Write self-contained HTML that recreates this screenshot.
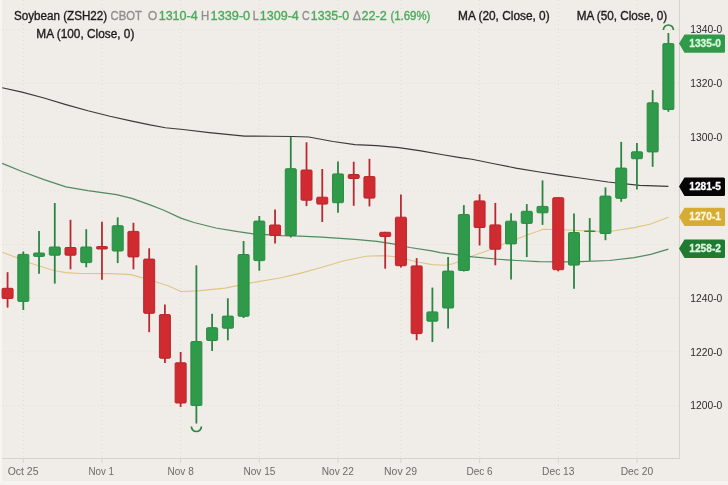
<!DOCTYPE html>
<html><head><meta charset="utf-8"><title>Soybean (ZSH22) chart</title>
<style>html,body{margin:0;padding:0;background:#f0ece7;} body{width:728px;height:485px;overflow:hidden;} svg{display:block;will-change:transform;}</style>
</head><body>
<svg width="728" height="485" viewBox="0 0 728 485">
<rect x="0" y="0" width="728" height="485" fill="#f0ece7"/>
<rect x="0" y="0" width="2" height="485" fill="#f6f5f2"/>
<rect x="0" y="481" width="728" height="4" fill="#f5f4f1"/>
<line x1="2" y1="405.6" x2="679" y2="405.6" stroke="#e0dcd6" stroke-width="1" stroke-dasharray="1 3"/>
<line x1="2" y1="351.9" x2="679" y2="351.9" stroke="#e0dcd6" stroke-width="1" stroke-dasharray="1 3"/>
<line x1="2" y1="298.2" x2="679" y2="298.2" stroke="#e0dcd6" stroke-width="1" stroke-dasharray="1 3"/>
<line x1="2" y1="244.5" x2="679" y2="244.5" stroke="#e0dcd6" stroke-width="1" stroke-dasharray="1 3"/>
<line x1="2" y1="190.8" x2="679" y2="190.8" stroke="#e0dcd6" stroke-width="1" stroke-dasharray="1 3"/>
<line x1="2" y1="137.1" x2="679" y2="137.1" stroke="#e0dcd6" stroke-width="1" stroke-dasharray="1 3"/>
<line x1="2" y1="83.4" x2="679" y2="83.4" stroke="#e0dcd6" stroke-width="1" stroke-dasharray="1 3"/>
<line x1="2" y1="29.7" x2="679" y2="29.7" stroke="#e0dcd6" stroke-width="1" stroke-dasharray="1 3"/>
<line x1="23.3" y1="0" x2="23.3" y2="458.5" stroke="#e0dcd6" stroke-width="1" stroke-dasharray="1 3"/>
<line x1="102.0" y1="0" x2="102.0" y2="458.5" stroke="#e0dcd6" stroke-width="1" stroke-dasharray="1 3"/>
<line x1="180.6" y1="0" x2="180.6" y2="458.5" stroke="#e0dcd6" stroke-width="1" stroke-dasharray="1 3"/>
<line x1="259.3" y1="0" x2="259.3" y2="458.5" stroke="#e0dcd6" stroke-width="1" stroke-dasharray="1 3"/>
<line x1="338.0" y1="0" x2="338.0" y2="458.5" stroke="#e0dcd6" stroke-width="1" stroke-dasharray="1 3"/>
<line x1="400.9" y1="0" x2="400.9" y2="458.5" stroke="#e0dcd6" stroke-width="1" stroke-dasharray="1 3"/>
<line x1="479.6" y1="0" x2="479.6" y2="458.5" stroke="#e0dcd6" stroke-width="1" stroke-dasharray="1 3"/>
<line x1="558.3" y1="0" x2="558.3" y2="458.5" stroke="#e0dcd6" stroke-width="1" stroke-dasharray="1 3"/>
<line x1="636.9" y1="0" x2="636.9" y2="458.5" stroke="#e0dcd6" stroke-width="1" stroke-dasharray="1 3"/>
<line x1="679.5" y1="0" x2="679.5" y2="458.5" stroke="#d6d3cd" stroke-width="1"/>
<line x1="2" y1="458.5" x2="680" y2="458.5" stroke="#d6d3cd" stroke-width="1"/>
<line x1="23.3" y1="458.5" x2="23.3" y2="463.0" stroke="#d6d3cd" stroke-width="1"/>
<line x1="102.0" y1="458.5" x2="102.0" y2="463.0" stroke="#d6d3cd" stroke-width="1"/>
<line x1="180.6" y1="458.5" x2="180.6" y2="463.0" stroke="#d6d3cd" stroke-width="1"/>
<line x1="259.3" y1="458.5" x2="259.3" y2="463.0" stroke="#d6d3cd" stroke-width="1"/>
<line x1="338.0" y1="458.5" x2="338.0" y2="463.0" stroke="#d6d3cd" stroke-width="1"/>
<line x1="400.9" y1="458.5" x2="400.9" y2="463.0" stroke="#d6d3cd" stroke-width="1"/>
<line x1="479.6" y1="458.5" x2="479.6" y2="463.0" stroke="#d6d3cd" stroke-width="1"/>
<line x1="558.3" y1="458.5" x2="558.3" y2="463.0" stroke="#d6d3cd" stroke-width="1"/>
<line x1="636.9" y1="458.5" x2="636.9" y2="463.0" stroke="#d6d3cd" stroke-width="1"/>
<polyline points="2.2,252.3 16.5,257.6 30.8,263.3 44.0,267.5 55.0,270.8 65.9,272.6 80.0,273.5 111.3,273.6 131.0,274.6 148.4,279.5 168.0,285.7 181.0,291.5 197.5,290.9 225.0,288.1 252.4,282.6 280.0,278.0 300.0,273.4 322.0,267.3 344.0,260.7 365.9,256.3 383.5,255.6 396.7,256.9 416.5,261.8 431.9,264.6 445.0,265.3 453.2,263.8 473.0,255.7 488.4,250.2 505.9,243.1 527.9,234.8 543.3,229.3 563.1,229.7 582.9,230.8 597.0,231.2 612.7,231.0 634.2,227.6 650.7,224.0 668.4,217.3" fill="none" stroke="#e0c585" stroke-width="1.1"/>
<polyline points="2.2,163.4 22.0,171.5 44.0,179.6 65.9,186.9 87.9,190.6 116.5,194.6 131.9,198.3 150.0,204.9 163.2,210.0 180.8,218.1 194.0,222.5 215.9,228.0 237.9,231.7 253.3,233.9 281.9,235.7 300.0,236.2 322.0,237.1 354.9,239.3 376.9,241.3 394.5,244.2 409.9,247.5 431.9,250.8 440.0,252.6 460.0,255.2 473.0,256.8 495.0,259.0 516.9,260.5 538.9,261.6 571.9,261.8 580.0,261.7 609.5,260.5 634.2,257.7 650.7,254.4 668.4,249.2" fill="none" stroke="#528a61" stroke-width="1.25"/>
<polyline points="2.2,87.7 22.0,92.1 44.0,98.0 65.9,104.6 87.9,110.8 109.9,116.3 131.9,121.1 150.0,124.9 165.4,127.7 183.0,129.5 209.3,132.6 244.5,136.1 270.9,136.3 292.9,136.5 308.8,137.0 333.0,141.5 354.9,144.6 376.9,145.6 398.9,147.6 420.9,150.9 442.9,154.8 460.0,157.6 472.0,159.3 494.0,163.7 515.9,168.1 537.9,171.8 559.9,175.1 581.9,178.2 608.0,182.0 639.6,185.4 668.4,186.4" fill="none" stroke="#3a3a3a" stroke-width="1.15"/>
<line x1="7.57" y1="272.2" x2="7.57" y2="307.6" stroke="#b82a32" stroke-width="1.8"/>
<rect x="2.07" y="288.3" width="11" height="10.2" rx="1" fill="#cf2b31" stroke="#b9252b" stroke-width="1"/>
<line x1="23.30" y1="251.5" x2="23.30" y2="310.0" stroke="#2b8544" stroke-width="1.8"/>
<rect x="17.80" y="254.4" width="11" height="47.0" rx="1" fill="#2e9a4a" stroke="#2a8c43" stroke-width="1"/>
<line x1="39.04" y1="231.0" x2="39.04" y2="273.7" stroke="#2b8544" stroke-width="1.8"/>
<rect x="33.54" y="253.0" width="11" height="3.4" rx="1" fill="#2e9a4a" stroke="#2a8c43" stroke-width="1"/>
<line x1="54.77" y1="203.0" x2="54.77" y2="283.6" stroke="#2b8544" stroke-width="1.8"/>
<rect x="49.27" y="247.0" width="11" height="8.2" rx="1" fill="#2e9a4a" stroke="#2a8c43" stroke-width="1"/>
<line x1="70.51" y1="219.8" x2="70.51" y2="269.3" stroke="#b82a32" stroke-width="1.8"/>
<rect x="65.01" y="247.5" width="11" height="7.7" rx="1" fill="#cf2b31" stroke="#b9252b" stroke-width="1"/>
<line x1="86.24" y1="229.2" x2="86.24" y2="267.3" stroke="#2b8544" stroke-width="1.8"/>
<rect x="80.74" y="247.0" width="11" height="15.6" rx="1" fill="#2e9a4a" stroke="#2a8c43" stroke-width="1"/>
<line x1="101.97" y1="221.8" x2="101.97" y2="279.7" stroke="#b82a32" stroke-width="1.8"/>
<rect x="96.47" y="246.5" width="11" height="2.5" rx="1" fill="#cf2b31" stroke="#b9252b" stroke-width="1"/>
<line x1="117.71" y1="217.3" x2="117.71" y2="263.1" stroke="#2b8544" stroke-width="1.8"/>
<rect x="112.21" y="225.7" width="11" height="25.3" rx="1" fill="#2e9a4a" stroke="#2a8c43" stroke-width="1"/>
<line x1="133.44" y1="222.8" x2="133.44" y2="269.3" stroke="#b82a32" stroke-width="1.8"/>
<rect x="127.94" y="231.4" width="11" height="25.5" rx="1" fill="#cf2b31" stroke="#b9252b" stroke-width="1"/>
<line x1="149.18" y1="248.3" x2="149.18" y2="332.2" stroke="#b82a32" stroke-width="1.8"/>
<rect x="143.68" y="259.1" width="11" height="54.2" rx="1" fill="#cf2b31" stroke="#b9252b" stroke-width="1"/>
<line x1="164.91" y1="304.5" x2="164.91" y2="363.1" stroke="#b82a32" stroke-width="1.8"/>
<rect x="159.41" y="314.6" width="11" height="43.6" rx="1" fill="#cf2b31" stroke="#b9252b" stroke-width="1"/>
<line x1="180.64" y1="352.0" x2="180.64" y2="407.0" stroke="#b82a32" stroke-width="1.8"/>
<rect x="175.14" y="362.8" width="11" height="40.2" rx="1" fill="#cf2b31" stroke="#b9252b" stroke-width="1"/>
<line x1="196.38" y1="265.3" x2="196.38" y2="423.5" stroke="#2b8544" stroke-width="1.8"/>
<rect x="190.88" y="341.5" width="11" height="64.0" rx="1" fill="#2e9a4a" stroke="#2a8c43" stroke-width="1"/>
<line x1="212.11" y1="313.8" x2="212.11" y2="351.0" stroke="#2b8544" stroke-width="1.8"/>
<rect x="206.61" y="327.7" width="11" height="12.8" rx="1" fill="#2e9a4a" stroke="#2a8c43" stroke-width="1"/>
<line x1="227.85" y1="298.3" x2="227.85" y2="340.3" stroke="#2b8544" stroke-width="1.8"/>
<rect x="222.35" y="316.1" width="11" height="12.1" rx="1" fill="#2e9a4a" stroke="#2a8c43" stroke-width="1"/>
<line x1="243.58" y1="241.0" x2="243.58" y2="318.0" stroke="#2b8544" stroke-width="1.8"/>
<rect x="238.08" y="254.5" width="11" height="61.8" rx="1" fill="#2e9a4a" stroke="#2a8c43" stroke-width="1"/>
<line x1="259.31" y1="216.0" x2="259.31" y2="270.7" stroke="#2b8544" stroke-width="1.8"/>
<rect x="253.81" y="221.1" width="11" height="39.5" rx="1" fill="#2e9a4a" stroke="#2a8c43" stroke-width="1"/>
<line x1="275.05" y1="209.5" x2="275.05" y2="243.4" stroke="#b82a32" stroke-width="1.8"/>
<rect x="269.55" y="225.0" width="11" height="10.5" rx="1" fill="#cf2b31" stroke="#b9252b" stroke-width="1"/>
<line x1="290.78" y1="136.9" x2="290.78" y2="237.5" stroke="#2b8544" stroke-width="1.8"/>
<rect x="285.28" y="168.7" width="11" height="66.8" rx="1" fill="#2e9a4a" stroke="#2a8c43" stroke-width="1"/>
<line x1="306.52" y1="142.3" x2="306.52" y2="206.1" stroke="#b82a32" stroke-width="1.8"/>
<rect x="301.02" y="170.0" width="11" height="30.2" rx="1" fill="#cf2b31" stroke="#b9252b" stroke-width="1"/>
<line x1="322.25" y1="169.0" x2="322.25" y2="222.0" stroke="#b82a32" stroke-width="1.8"/>
<rect x="316.75" y="197.2" width="11" height="6.9" rx="1" fill="#cf2b31" stroke="#b9252b" stroke-width="1"/>
<line x1="337.98" y1="161.6" x2="337.98" y2="212.8" stroke="#2b8544" stroke-width="1.8"/>
<rect x="332.48" y="173.9" width="11" height="28.8" rx="1" fill="#2e9a4a" stroke="#2a8c43" stroke-width="1"/>
<line x1="353.72" y1="161.7" x2="353.72" y2="205.8" stroke="#b82a32" stroke-width="1.8"/>
<rect x="348.22" y="174.5" width="11" height="4.0" rx="1" fill="#cf2b31" stroke="#b9252b" stroke-width="1"/>
<line x1="369.45" y1="158.8" x2="369.45" y2="206.4" stroke="#b82a32" stroke-width="1.8"/>
<rect x="363.95" y="176.6" width="11" height="21.5" rx="1" fill="#cf2b31" stroke="#b9252b" stroke-width="1"/>
<line x1="385.19" y1="231.8" x2="385.19" y2="268.7" stroke="#b82a32" stroke-width="1.8"/>
<rect x="379.69" y="232.3" width="11" height="4.2" rx="1" fill="#cf2b31" stroke="#b9252b" stroke-width="1"/>
<line x1="400.92" y1="194.4" x2="400.92" y2="267.6" stroke="#b82a32" stroke-width="1.8"/>
<rect x="395.42" y="217.2" width="11" height="48.5" rx="1" fill="#cf2b31" stroke="#b9252b" stroke-width="1"/>
<line x1="416.65" y1="258.1" x2="416.65" y2="340.2" stroke="#b82a32" stroke-width="1.8"/>
<rect x="411.15" y="265.9" width="11" height="67.7" rx="1" fill="#cf2b31" stroke="#b9252b" stroke-width="1"/>
<line x1="432.39" y1="287.6" x2="432.39" y2="342.0" stroke="#2b8544" stroke-width="1.8"/>
<rect x="426.89" y="311.9" width="11" height="9.3" rx="1" fill="#2e9a4a" stroke="#2a8c43" stroke-width="1"/>
<line x1="448.12" y1="257.0" x2="448.12" y2="328.5" stroke="#2b8544" stroke-width="1.8"/>
<rect x="442.62" y="271.1" width="11" height="36.9" rx="1" fill="#2e9a4a" stroke="#2a8c43" stroke-width="1"/>
<line x1="463.86" y1="205.1" x2="463.86" y2="271.5" stroke="#2b8544" stroke-width="1.8"/>
<rect x="458.36" y="214.5" width="11" height="56.0" rx="1" fill="#2e9a4a" stroke="#2a8c43" stroke-width="1"/>
<line x1="479.59" y1="194.3" x2="479.59" y2="245.5" stroke="#b82a32" stroke-width="1.8"/>
<rect x="474.09" y="200.9" width="11" height="26.6" rx="1" fill="#cf2b31" stroke="#b9252b" stroke-width="1"/>
<line x1="495.32" y1="202.9" x2="495.32" y2="265.3" stroke="#b82a32" stroke-width="1.8"/>
<rect x="489.82" y="224.9" width="11" height="24.3" rx="1" fill="#cf2b31" stroke="#b9252b" stroke-width="1"/>
<line x1="511.06" y1="213.3" x2="511.06" y2="279.4" stroke="#2b8544" stroke-width="1.8"/>
<rect x="505.56" y="221.2" width="11" height="22.7" rx="1" fill="#2e9a4a" stroke="#2a8c43" stroke-width="1"/>
<line x1="526.79" y1="204.1" x2="526.79" y2="257.1" stroke="#2b8544" stroke-width="1.8"/>
<rect x="521.29" y="211.3" width="11" height="12.1" rx="1" fill="#2e9a4a" stroke="#2a8c43" stroke-width="1"/>
<line x1="542.53" y1="180.4" x2="542.53" y2="224.9" stroke="#2b8544" stroke-width="1.8"/>
<rect x="537.03" y="206.4" width="11" height="6.4" rx="1" fill="#2e9a4a" stroke="#2a8c43" stroke-width="1"/>
<line x1="558.26" y1="197.2" x2="558.26" y2="271.4" stroke="#b82a32" stroke-width="1.8"/>
<rect x="552.76" y="197.7" width="11" height="72.0" rx="1" fill="#cf2b31" stroke="#b9252b" stroke-width="1"/>
<line x1="573.99" y1="213.4" x2="573.99" y2="288.7" stroke="#2b8544" stroke-width="1.8"/>
<rect x="568.49" y="232.5" width="11" height="32.6" rx="1" fill="#2e9a4a" stroke="#2a8c43" stroke-width="1"/>
<line x1="589.73" y1="218.1" x2="589.73" y2="260.8" stroke="#2b8544" stroke-width="1.8"/>
<rect x="584.23" y="231.0" width="11" height="0.5" rx="1" fill="#2e9a4a" stroke="#2a8c43" stroke-width="1"/>
<line x1="605.46" y1="187.4" x2="605.46" y2="240.2" stroke="#2b8544" stroke-width="1.8"/>
<rect x="599.96" y="196.1" width="11" height="37.4" rx="1" fill="#2e9a4a" stroke="#2a8c43" stroke-width="1"/>
<line x1="621.20" y1="141.9" x2="621.20" y2="201.8" stroke="#2b8544" stroke-width="1.8"/>
<rect x="615.70" y="168.1" width="11" height="30.2" rx="1" fill="#2e9a4a" stroke="#2a8c43" stroke-width="1"/>
<line x1="636.93" y1="143.1" x2="636.93" y2="189.4" stroke="#2b8544" stroke-width="1.8"/>
<rect x="631.43" y="151.8" width="11" height="6.9" rx="1" fill="#2e9a4a" stroke="#2a8c43" stroke-width="1"/>
<line x1="652.66" y1="90.2" x2="652.66" y2="166.8" stroke="#2b8544" stroke-width="1.8"/>
<rect x="647.16" y="102.8" width="11" height="49.1" rx="1" fill="#2e9a4a" stroke="#2a8c43" stroke-width="1"/>
<line x1="668.40" y1="33.0" x2="668.40" y2="111.8" stroke="#2b8544" stroke-width="1.8"/>
<rect x="662.90" y="43.6" width="11" height="65.9" rx="1" fill="#2e9a4a" stroke="#2a8c43" stroke-width="1"/>
<path d="M663.40,30 A5,5 0 0 1 673.40,30" fill="none" stroke="#2b8544" stroke-width="1.7"/>
<path d="M191.38,426.5 A5,5 0 0 0 201.38,426.5" fill="none" stroke="#2b8544" stroke-width="1.7"/>
<text x="690.3" y="33.3" font-family="'Liberation Sans', Arial, sans-serif" font-size="10.3" fill="#2b2b2b" font-weight="normal" text-anchor="start" textLength="32" lengthAdjust="spacingAndGlyphs">1340-0</text>
<text x="690.3" y="87.0" font-family="'Liberation Sans', Arial, sans-serif" font-size="10.3" fill="#2b2b2b" font-weight="normal" text-anchor="start" textLength="32" lengthAdjust="spacingAndGlyphs">1320-0</text>
<text x="690.3" y="140.7" font-family="'Liberation Sans', Arial, sans-serif" font-size="10.3" fill="#2b2b2b" font-weight="normal" text-anchor="start" textLength="32" lengthAdjust="spacingAndGlyphs">1300-0</text>
<text x="690.3" y="301.8" font-family="'Liberation Sans', Arial, sans-serif" font-size="10.3" fill="#2b2b2b" font-weight="normal" text-anchor="start" textLength="32" lengthAdjust="spacingAndGlyphs">1240-0</text>
<text x="690.3" y="355.5" font-family="'Liberation Sans', Arial, sans-serif" font-size="10.3" fill="#2b2b2b" font-weight="normal" text-anchor="start" textLength="32" lengthAdjust="spacingAndGlyphs">1220-0</text>
<text x="690.3" y="409.2" font-family="'Liberation Sans', Arial, sans-serif" font-size="10.3" fill="#2b2b2b" font-weight="normal" text-anchor="start" textLength="32" lengthAdjust="spacingAndGlyphs">1200-0</text>
<path d="M679,43.5 L684.5,34.5 L723.5,34.5 Q725,34.5 725,36.0 L725,51.3 Q725,52.8 723.5,52.8 L684.5,52.8 Z" fill="#2e9a4a"/><text x="689.3" y="46.7" font-family="'Liberation Sans', Arial, sans-serif" font-size="10.5" fill="#d8f7d8" font-weight="bold" text-anchor="start" textLength="31.7" lengthAdjust="spacingAndGlyphs" stroke="#d8f7d8" stroke-width="0.3">1335-0</text>
<path d="M679,186.6 L684.5,177.6 L723.5,177.6 Q725,177.6 725,179.1 L725,194.4 Q725,195.9 723.5,195.9 L684.5,195.9 Z" fill="#050505"/><text x="689.3" y="189.8" font-family="'Liberation Sans', Arial, sans-serif" font-size="10.5" fill="#ffffff" font-weight="bold" text-anchor="start" textLength="31.7" lengthAdjust="spacingAndGlyphs" stroke="#ffffff" stroke-width="0.3">1281-5</text>
<path d="M679,216.8 L684.5,207.8 L723.5,207.8 Q725,207.8 725,209.3 L725,224.6 Q725,226.1 723.5,226.1 L684.5,226.1 Z" fill="#d6ac34"/><text x="689.3" y="220.0" font-family="'Liberation Sans', Arial, sans-serif" font-size="10.5" fill="#fff6dc" font-weight="bold" text-anchor="start" textLength="31.7" lengthAdjust="spacingAndGlyphs" stroke="#fff6dc" stroke-width="0.3">1270-1</text>
<path d="M679,248.6 L684.5,239.6 L723.5,239.6 Q725,239.6 725,241.1 L725,256.4 Q725,257.9 723.5,257.9 L684.5,257.9 Z" fill="#1f7a32"/><text x="689.3" y="251.8" font-family="'Liberation Sans', Arial, sans-serif" font-size="10.5" fill="#dff5df" font-weight="bold" text-anchor="start" textLength="31.7" lengthAdjust="spacingAndGlyphs" stroke="#dff5df" stroke-width="0.3">1258-2</text>
<text x="7.7" y="474.8" font-family="'Liberation Sans', Arial, sans-serif" font-size="11.5" fill="#6b6b6b" font-weight="normal" text-anchor="start" textLength="30.8" lengthAdjust="spacingAndGlyphs">Oct 25</text>
<text x="88.5" y="474.8" font-family="'Liberation Sans', Arial, sans-serif" font-size="11.5" fill="#6b6b6b" font-weight="normal" text-anchor="start" textLength="25.5" lengthAdjust="spacingAndGlyphs">Nov 1</text>
<text x="167.6" y="474.8" font-family="'Liberation Sans', Arial, sans-serif" font-size="11.5" fill="#6b6b6b" font-weight="normal" text-anchor="start" textLength="26.1" lengthAdjust="spacingAndGlyphs">Nov 8</text>
<text x="243.4" y="474.8" font-family="'Liberation Sans', Arial, sans-serif" font-size="11.5" fill="#6b6b6b" font-weight="normal" text-anchor="start" textLength="32.1" lengthAdjust="spacingAndGlyphs">Nov 15</text>
<text x="321.7" y="474.8" font-family="'Liberation Sans', Arial, sans-serif" font-size="11.5" fill="#6b6b6b" font-weight="normal" text-anchor="start" textLength="32.1" lengthAdjust="spacingAndGlyphs">Nov 22</text>
<text x="384.1" y="474.8" font-family="'Liberation Sans', Arial, sans-serif" font-size="11.5" fill="#6b6b6b" font-weight="normal" text-anchor="start" textLength="33" lengthAdjust="spacingAndGlyphs">Nov 29</text>
<text x="466.5" y="474.8" font-family="'Liberation Sans', Arial, sans-serif" font-size="11.5" fill="#6b6b6b" font-weight="normal" text-anchor="start" textLength="26.1" lengthAdjust="spacingAndGlyphs">Dec 6</text>
<text x="542.1" y="474.8" font-family="'Liberation Sans', Arial, sans-serif" font-size="11.5" fill="#6b6b6b" font-weight="normal" text-anchor="start" textLength="32.4" lengthAdjust="spacingAndGlyphs">Dec 13</text>
<text x="620.7" y="474.8" font-family="'Liberation Sans', Arial, sans-serif" font-size="11.5" fill="#6b6b6b" font-weight="normal" text-anchor="start" textLength="32.4" lengthAdjust="spacingAndGlyphs">Dec 20</text>
<text x="14" y="20.1" font-family="'Liberation Sans', Arial, sans-serif" font-size="12" fill="#1c1c1c" font-weight="normal" text-anchor="start" textLength="93.1" lengthAdjust="spacingAndGlyphs" stroke="#1c1c1c" stroke-width="0.35">Soybean (ZSH22)</text>
<text x="110.6" y="20.1" font-family="'Liberation Sans', Arial, sans-serif" font-size="12" fill="#8f8f8f" font-weight="normal" text-anchor="start" textLength="31.3" lengthAdjust="spacingAndGlyphs" stroke="#8f8f8f" stroke-width="0.35">CBOT</text>
<text x="148.1" y="20.1" font-family="'Liberation Sans', Arial, sans-serif" font-size="12" fill="#8f8f8f" font-weight="normal" text-anchor="start" textLength="9.2" lengthAdjust="spacingAndGlyphs" stroke="#8f8f8f" stroke-width="0.35">O</text>
<text x="158.7" y="20.1" font-family="'Liberation Sans', Arial, sans-serif" font-size="12" fill="#4caa5c" font-weight="normal" text-anchor="start" textLength="39" lengthAdjust="spacingAndGlyphs" stroke="#4caa5c" stroke-width="0.35">1310-4</text>
<text x="201" y="20.1" font-family="'Liberation Sans', Arial, sans-serif" font-size="12" fill="#8f8f8f" font-weight="normal" text-anchor="start" textLength="8.2" lengthAdjust="spacingAndGlyphs" stroke="#8f8f8f" stroke-width="0.35">H</text>
<text x="210.6" y="20.1" font-family="'Liberation Sans', Arial, sans-serif" font-size="12" fill="#4caa5c" font-weight="normal" text-anchor="start" textLength="39.6" lengthAdjust="spacingAndGlyphs" stroke="#4caa5c" stroke-width="0.35">1339-0</text>
<text x="252.7" y="20.1" font-family="'Liberation Sans', Arial, sans-serif" font-size="12" fill="#8f8f8f" font-weight="normal" text-anchor="start" textLength="6.1" lengthAdjust="spacingAndGlyphs" stroke="#8f8f8f" stroke-width="0.35">L</text>
<text x="259.8" y="20.1" font-family="'Liberation Sans', Arial, sans-serif" font-size="12" fill="#4caa5c" font-weight="normal" text-anchor="start" textLength="39" lengthAdjust="spacingAndGlyphs" stroke="#4caa5c" stroke-width="0.35">1309-4</text>
<text x="302.1" y="20.1" font-family="'Liberation Sans', Arial, sans-serif" font-size="12" fill="#8f8f8f" font-weight="normal" text-anchor="start" textLength="7.7" lengthAdjust="spacingAndGlyphs" stroke="#8f8f8f" stroke-width="0.35">C</text>
<text x="310.8" y="20.1" font-family="'Liberation Sans', Arial, sans-serif" font-size="12" fill="#4caa5c" font-weight="normal" text-anchor="start" textLength="38.4" lengthAdjust="spacingAndGlyphs" stroke="#4caa5c" stroke-width="0.35">1335-0</text>
<text x="352.9" y="20.1" font-family="'Liberation Sans', Arial, sans-serif" font-size="12" fill="#8f8f8f" font-weight="normal" text-anchor="start" textLength="7.9" lengthAdjust="spacingAndGlyphs" stroke="#8f8f8f" stroke-width="0.35">Δ</text>
<text x="361.5" y="20.1" font-family="'Liberation Sans', Arial, sans-serif" font-size="12" fill="#4caa5c" font-weight="normal" text-anchor="start" textLength="25.2" lengthAdjust="spacingAndGlyphs" stroke="#4caa5c" stroke-width="0.35">22-2</text>
<text x="390.4" y="20.1" font-family="'Liberation Sans', Arial, sans-serif" font-size="12" fill="#4caa5c" font-weight="normal" text-anchor="start" textLength="40" lengthAdjust="spacingAndGlyphs" stroke="#4caa5c" stroke-width="0.35">(1.69%)</text>
<text x="458.1" y="20.1" font-family="'Liberation Sans', Arial, sans-serif" font-size="12" fill="#1c1c1c" font-weight="normal" text-anchor="start" textLength="91.5" lengthAdjust="spacingAndGlyphs" stroke="#1c1c1c" stroke-width="0.35">MA (20, Close, 0)</text>
<text x="576.7" y="20.1" font-family="'Liberation Sans', Arial, sans-serif" font-size="12" fill="#1c1c1c" font-weight="normal" text-anchor="start" textLength="90.4" lengthAdjust="spacingAndGlyphs" stroke="#1c1c1c" stroke-width="0.35">MA (50, Close, 0)</text>
<text x="36.3" y="37.9" font-family="'Liberation Sans', Arial, sans-serif" font-size="12" fill="#1c1c1c" font-weight="normal" text-anchor="start" textLength="98.1" lengthAdjust="spacingAndGlyphs" stroke="#1c1c1c" stroke-width="0.35">MA (100, Close, 0)</text>
</svg>
</body></html>
